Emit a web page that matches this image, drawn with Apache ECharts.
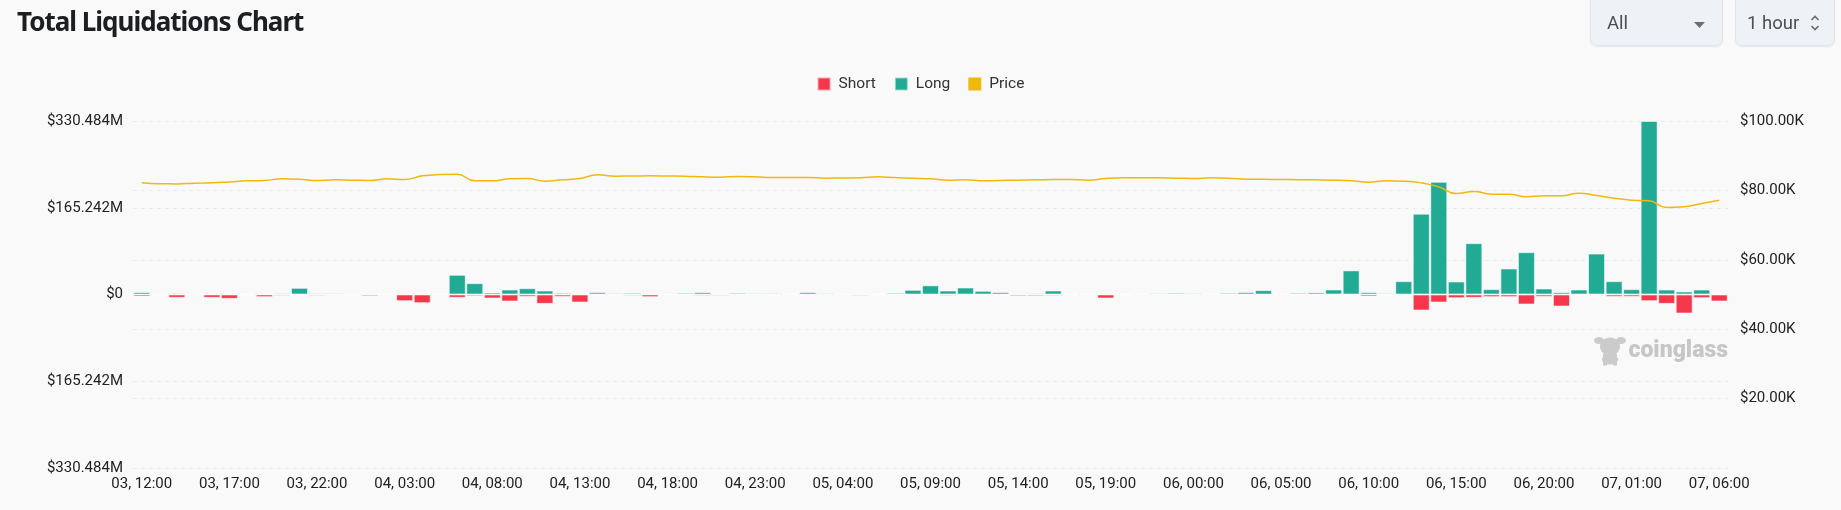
<!DOCTYPE html>
<html>
<head>
<meta charset="utf-8">
<script src="https://cdn.jsdelivr.net/npm/echarts@6/dist/echarts.min.js"></script>
<style>
  html, body { margin: 0; padding: 0; background: #f9f9f9; }
  #wrap { position: relative; width: 1841px; height: 510px; overflow: hidden; background: #f9f9f9; }
  #chart { position: absolute; left: 0; top: 0; width: 1841px; height: 510px; }
  #title { position: absolute; left: 17px; top: 3px; font-family: "Noto Sans", sans-serif; font-weight: 700; font-size: 26px; color: #1b1e22; letter-spacing: -1px; }
  .sel { position: absolute; top: -6px; height: 52px; background: #eef2f6; border: 1px solid #dfe5ec; border-radius: 7px; box-shadow: 0 1px 2px rgba(0,0,0,0.07); font-family: Roboto, "Noto Sans", sans-serif; font-size: 18.5px; color: #4d4f52; box-sizing: border-box; }
  .sel span { position: absolute; top: 17px; }
</style>
</head>
<body>
<div id="wrap">
  <div id="chart"></div>
  <div id="title">Total Liquidations Chart</div>
  <div class="sel" style="left:1590px; width:133px;">
    <span style="left:16px;">All</span>
    <svg style="position:absolute; left:103px; top:27px;" width="11" height="6"><path d="M0 0 L11 0 L5.5 6 Z" fill="#6b6e72"/></svg>
  </div>
  <div class="sel" style="left:1735px; width:100px;">
    <span style="left:11px;">1 hour</span>
    <svg style="position:absolute; left:74px; top:18px;" width="10" height="20"><path d="M1.5 7 L5 3.5 L8.5 7 M1.5 13 L5 16.5 L8.5 13" fill="none" stroke="#6b6e72" stroke-width="1.6"/></svg>
  </div>
</div>
<script>
const categories = [
  '03, 12:00','03, 13:00','03, 14:00','03, 15:00','03, 16:00','03, 17:00','03, 18:00','03, 19:00','03, 20:00','03, 21:00',
  '03, 22:00','03, 23:00','04, 00:00','04, 01:00','04, 02:00','04, 03:00','04, 04:00','04, 05:00','04, 06:00','04, 07:00',
  '04, 08:00','04, 09:00','04, 10:00','04, 11:00','04, 12:00','04, 13:00','04, 14:00','04, 15:00','04, 16:00','04, 17:00',
  '04, 18:00','04, 19:00','04, 20:00','04, 21:00','04, 22:00','04, 23:00','05, 00:00','05, 01:00','05, 02:00','05, 03:00',
  '05, 04:00','05, 05:00','05, 06:00','05, 07:00','05, 08:00','05, 09:00','05, 10:00','05, 11:00','05, 12:00','05, 13:00',
  '05, 14:00','05, 15:00','05, 16:00','05, 17:00','05, 18:00','05, 19:00','05, 20:00','05, 21:00','05, 22:00','05, 23:00',
  '06, 00:00','06, 01:00','06, 02:00','06, 03:00','06, 04:00','06, 05:00','06, 06:00','06, 07:00','06, 08:00','06, 09:00',
  '06, 10:00','06, 11:00','06, 12:00','06, 13:00','06, 14:00','06, 15:00','06, 16:00','06, 17:00','06, 18:00','06, 19:00',
  '06, 20:00','06, 21:00','06, 22:00','06, 23:00','07, 00:00','07, 01:00','07, 02:00','07, 03:00','07, 04:00','07, 05:00',
  '07, 06:00'
];

// Long liquidations, millions USD
const longValues = [
  4.5, 2, 2.5, 2, 0.7, 0.7, 1.3, 0.7, 2.5, 12.7,
  2.5, 2.5, 2, 0.6, 1.3, 2, 1.3, 1.3, 37.5, 21.6,
  3.8, 9.5, 12, 7.6, 3.2, 2, 4.4, 2.5, 3.2, 1.3,
  0.6, 3.2, 4.4, 1.3, 3.2, 2.5, 2.5, 1.3, 4.4, 2.5,
  1.3, 1.3, 1.3, 3.2, 8.9, 17.5, 7.6, 13.3, 7, 4.4,
  0.6, 2.5, 7.6, 1.3, 1.3, 0.6, 0.6, 1.3, 2.5, 3.2,
  2.5, 1.3, 3.2, 4.4, 8.2, 1.3, 3.2, 4, 9.5, 46,
  4.4, 2.5, 25.4, 154, 214.6, 24.8, 97.8, 10.2, 49.5, 80.6,
  11.4, 4.4, 9.5, 78, 25.4, 10.2, 330.484, 9.5, 5.7, 9.5,
  0.5
];

// Short liquidations, millions USD (drawn below zero)
const shortValues = [
  3.8, 1, 6.3, 2, 6.3, 8.2, 1.3, 5, 2.5, 1,
  2.5, 0.6, 0.6, 3.2, 2, 12.7, 16.5, 2, 6.3, 3.2,
  7.6, 13.3, 4.4, 17.8, 4.4, 15.2, 1.3, 1.3, 2.5, 5,
  0.6, 0.6, 2.5, 2.5, 0.6, 0.6, 1.3, 0.6, 1.3, 2,
  2, 2.5, 1.3, 1.3, 1.3, 1.3, 2.5, 1.3, 1.3, 1.3,
  3.2, 3.2, 2.5, 0.6, 0.6, 7.6, 1.3, 2, 0.6, 0.6,
  2, 2, 0.6, 0.6, 1.3, 2, 0.6, 0.6, 1.3, 1.3,
  3.8, 1.3, 1.3, 30.5, 15.2, 7, 6.3, 5, 5, 19,
  4.4, 22.9, 1.3, 2, 4.4, 4.4, 12.7, 17.8, 36.2, 7,
  13.3
];

// BTC price, USD
const priceValues = [
  82170, 81900, 81880, 82050, 82170, 82450, 82750, 82850, 83330, 83230,
  82850, 83040, 82950, 82850, 83330, 83140, 84190, 84580, 84670, 82750,
  82750, 83330, 83430, 82650, 83040, 83430, 84480, 84100, 84150, 84190,
  84150, 84100, 83900, 83810, 84000, 83900, 83710, 83710, 83710, 83520,
  83570, 83620, 83910, 83700, 83520, 83330, 82940, 83040, 82750, 82850,
  82940, 83050, 83140, 83140, 82940, 83430, 83620, 83620, 83620, 83520,
  83430, 83620, 83520, 83230, 83180, 83140, 83100, 83040, 82940, 82750,
  82370, 82750, 82650, 82170, 81020, 79120, 79690, 78920, 78920, 78150,
  78430, 78430, 79210, 78540, 77770, 77190, 76990, 75090, 75300, 76240,
  77190
];

const leftMax = 330.484;
const leftInterval = 165.242;
const rightMax = 100000;
const rightInterval = 20000;

const C_SHORT = '#f5374b', C_LONG = '#22ab94', C_PRICE = '#f0b90b';
const gridLineStyle = { color: '#ebebeb', type: [4, 4], width: 1 };

const chart = echarts.init(document.getElementById('chart'));
chart.setOption({
  backgroundColor: 'transparent',
  animation: false,
  textStyle: { fontFamily: 'Roboto, "Noto Sans", sans-serif' },
  legend: {
    data: ['Short', 'Long', 'Price'],
    top: 71, left: 'center',
    icon: 'rect', itemWidth: 13, itemHeight: 13, itemGap: 18,
    textStyle: { fontSize: 15.5, color: '#333', padding: [0, 0, 0, 3] }
  },
  grid: { left: 133, right: 113, top: 121, bottom: 42 },
  xAxis: {
    type: 'category', data: categories, boundaryGap: true,
    axisLine: { show: false, onZero: false }, axisTick: { show: false },
    axisLabel: { interval: 4, fontSize: 15, color: '#222', margin: 9 },
    splitLine: { show: false }
  },
  yAxis: [
    {
      type: 'value', min: -leftMax, max: leftMax, interval: leftInterval,
      axisLine: { show: false }, axisTick: { show: false },
      axisLabel: { fontSize: 15, color: '#222', margin: 10,
        formatter: v => Math.abs(v) < 1e-9 ? '$0' : '$' + Math.abs(v).toFixed(3) + 'M' },
      splitLine: { show: true, lineStyle: gridLineStyle }
    },
    {
      type: 'value', min: 0, max: rightMax, interval: rightInterval, position: 'right',
      axisLine: { show: false }, axisTick: { show: false },
      axisLabel: { fontSize: 15, color: '#222', margin: 12,
        formatter: v => v === 0 ? '' : '$' + (v / 1000).toFixed(2) + 'K' },
      splitLine: { show: true, lineStyle: gridLineStyle }
    }
  ],
  graphic: [
    {
      type: 'group', left: 1594, top: 337, silent: true,
      children: [
        { type: 'ellipse', shape: { cx: 15, cy: 12, rx: 10, ry: 9 }, style: { fill: '#cbcbcb' } },
        { type: 'ellipse', shape: { cx: 4, cy: 6, rx: 5, ry: 3.5 }, style: { fill: '#cbcbcb' } },
        { type: 'ellipse', shape: { cx: 26, cy: 6, rx: 5, ry: 3.5 }, style: { fill: '#cbcbcb' } },
        { type: 'rect', shape: { x: 8, y: 18, width: 14, height: 9, r: 3 }, style: { fill: '#cbcbcb' } },
        { type: 'ellipse', shape: { cx: 15, cy: 25, rx: 8, ry: 5 }, style: { fill: '#cbcbcb' } },
        { type: 'rect', shape: { x: 8, y: 26, width: 4, height: 5 }, style: { fill: '#cbcbcb' } },
        { type: 'rect', shape: { x: 18, y: 26, width: 4, height: 5 }, style: { fill: '#cbcbcb' } }
      ]
    },
    {
      type: 'text', right: 113, top: 340, silent: true,
      style: { text: 'coinglass', fill: '#c6c6c6', font: '900 23px Roboto, "Noto Sans", sans-serif' }
    }
  ],
  series: [
    {
      name: 'Short', type: 'bar', stack: 'liq', yAxisIndex: 0,
      data: shortValues.map(v => -v),
      barCategoryGap: '3%',
      itemStyle: { color: C_SHORT, borderColor: 'rgba(255,255,255,0.55)', borderWidth: 1 }
    },
    {
      name: 'Long', type: 'bar', stack: 'liq', yAxisIndex: 0,
      data: longValues,
      barCategoryGap: '3%',
      itemStyle: { color: C_LONG, borderColor: 'rgba(255,255,255,0.55)', borderWidth: 1 }
    },
    {
      name: 'Price', type: 'line', yAxisIndex: 1, data: priceValues,
      smooth: true, showSymbol: false, symbol: 'none', z: 5,
      lineStyle: { color: C_PRICE, width: 1.5 }, itemStyle: { color: C_PRICE }
    }
  ]
});
</script>
</body>
</html>
